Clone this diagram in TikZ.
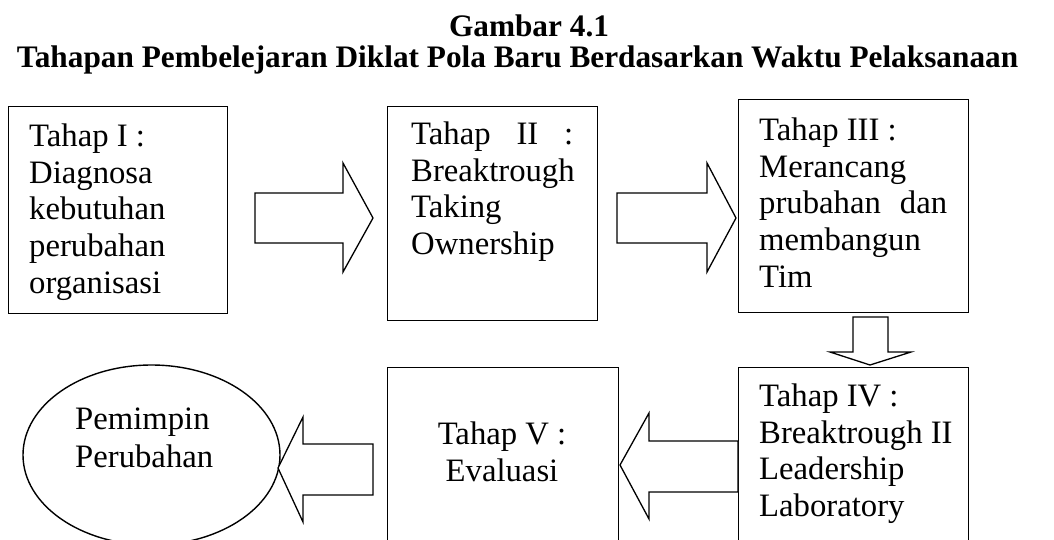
\documentclass[tikz,border=0pt]{standalone}
\usepackage{fontspec}
\setmainfont{Liberation Serif}
\usetikzlibrary{shapes.geometric}
\begin{document}
\begin{tikzpicture}[x=1pt,y=-1pt,
    stagebox/.style={draw, line width=1.4pt, rectangle, inner sep=0pt, anchor=north west},
    stagetext/.style={inner sep=0pt, anchor=north west, align=left, font=\fontsize{32.7}{36.7}\selectfont},
    blockarrow/.style={draw, line width=1.3pt, fill=white, line join=miter},
    heading/.style={inner sep=0pt, anchor=base, font=\fontsize{31.3}{31}\selectfont\bfseries}]
    \useasboundingbox (0,0) rectangle (1054,539);
    \clip (0,0) rectangle (1054,539);

    % Title
    \node[heading] (title) at (529,36) {Gambar 4.1};
    \node[heading] (subtitle) at (517.5,67) {Tahapan Pembelejaran Diklat Pola Baru Berdasarkan Waktu Pelaksanaan};

    % Stages
    \node[stagebox, minimum width=219pt, minimum height=207pt] (s1) at (8,106) {};
    \node[stagebox, minimum width=210pt, minimum height=214pt] (s2) at (387,106) {};
    \node[stagebox, minimum width=230pt, minimum height=213pt] (s3) at (738,99) {};
    \node[stagebox, minimum width=230pt, minimum height=200pt] (s4) at (738,367) {};
    \node[stagebox, minimum width=231pt, minimum height=200pt] (s5) at (387,367) {};
    \node[draw, line width=1.4pt, ellipse, minimum width=257pt, minimum height=180pt] (leader) at (151.5,455) {};

    % Texts
    \node[stagetext] (t1) at (29,123.5) {Tahap I :\\Diagnosa\\kebutuhan\\perubahan\\organisasi};
    \node[stagetext] (t2) at (411,121.5) {\makebox[162pt][s]{Tahap II :}\\Breaktrough\\Taking\\Ownership};
    \node[stagetext] (t3) at (759,117.5) {Tahap III :\\Merancang\\\makebox[188pt][s]{prubahan dan}\\membangun\\Tim};
    \node[stagetext] (t4) at (759,383.5) {Tahap IV :\\Breaktrough II\\Leadership\\Laboratory};
    \node[stagetext, anchor=north, align=center] (t5) at (502,421.5) {Tahap V :\\Evaluasi};
    \node[stagetext, font=\fontsize{32.7}{38}\selectfont] (t6) at (75,407.5) {Pemimpin\\Perubahan};

    % Arrows
    \draw[blockarrow] (255,193) -- (343,193) -- (343,163) -- (373,218) -- (343,272) -- (343,243) -- (255,243) -- cycle;
    \draw[blockarrow] (617,193) -- (707,193) -- (707,163) -- (736,218) -- (707,272) -- (707,243) -- (617,243) -- cycle;
    \draw[blockarrow] (853,317) -- (888,317) -- (888,352) -- (911,352) -- (870,365) -- (830,352) -- (853,352) -- cycle;
    \draw[blockarrow] (738,441) -- (649,441) -- (649,413) -- (620,465) -- (649,519) -- (649,492) -- (738,492) -- cycle;
    \draw[blockarrow] (373,444) -- (303,444) -- (303,417) -- (278,468) -- (303,522) -- (303,495) -- (373,495) -- cycle;
\end{tikzpicture}
\end{document}
